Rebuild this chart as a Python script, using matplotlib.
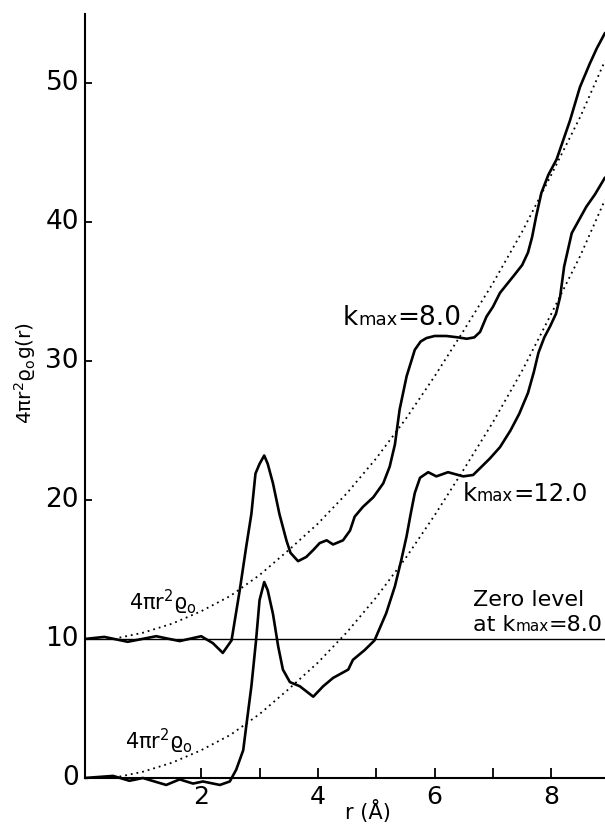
import matplotlib
matplotlib.use("Agg")
import matplotlib.pyplot as plt
from matplotlib.offsetbox import TextArea, HPacker, AnnotationBbox

plt.rcParams['font.family'] = ['DejaVu Sans']
plt.rcParams['mathtext.default'] = 'regular'

# ---- data ----
ZERO_LEVEL_K8 = 10.0

# kmax = 8.0 curve (values relative to its own zero level at 10)
r_k8 = [0.0, 0.34, 0.74, 1.23, 1.63, 2.0, 2.2, 2.37, 2.52, 2.66, 2.77, 2.86, 2.93,
        3.0, 3.08, 3.14, 3.23, 3.34, 3.46, 3.53, 3.66, 3.80, 3.92, 4.03, 4.15, 4.26,
        4.43, 4.55, 4.63, 4.77, 4.95, 5.12, 5.23, 5.32, 5.40, 5.52, 5.66, 5.76, 5.86,
        6.0, 6.2, 6.4, 6.55, 6.68, 6.78, 6.89, 7.0, 7.12, 7.35, 7.50, 7.60, 7.67,
        7.74, 7.83, 7.95, 8.09, 8.32, 8.49, 8.66, 8.78, 8.92]
g_k8 = [0.0, 0.15, -0.2, 0.2, -0.15, 0.2, -0.3, -1.0, -0.1, 3.5, 6.6, 9.0, 11.9,
        12.6, 13.2, 12.6, 11.2, 9.0, 7.1, 6.2, 5.6, 5.9, 6.4, 6.9, 7.1, 6.8,
        7.1, 7.8, 8.8, 9.5, 10.2, 11.2, 12.4, 14.0, 16.5, 18.9, 20.8, 21.4, 21.65,
        21.8, 21.8, 21.7, 21.6, 21.7, 22.1, 23.2, 23.9, 24.9, 26.1, 26.9, 27.8, 28.9,
        30.4, 32.1, 33.4, 34.5, 37.3, 39.7, 41.4, 42.5, 43.6]

# kmax = 12.0 curve (zero level at 0)
r_k12 = [0.0, 0.49, 0.77, 1.0, 1.4, 1.63, 1.86, 2.03, 2.32, 2.49, 2.6, 2.72, 2.78,
         2.86, 2.94, 3.0, 3.08, 3.14, 3.23, 3.32, 3.40, 3.52, 3.69, 3.92, 4.09, 4.26,
         4.52, 4.60, 4.80, 4.97, 5.17, 5.32, 5.43, 5.52, 5.59, 5.66, 5.75, 5.89, 6.03,
         6.23, 6.49, 6.66, 6.83, 6.95, 7.12, 7.30, 7.45, 7.60, 7.70, 7.78, 7.88, 7.98,
         8.08, 8.15, 8.22, 8.35, 8.6, 8.75, 8.92]
g_k12 = [0.0, 0.15, -0.2, 0.0, -0.5, -0.1, -0.4, -0.25, -0.5, -0.25, 0.6, 2.0, 4.0,
         6.6, 9.9, 12.8, 14.1, 13.5, 11.8, 9.45, 7.8, 6.9, 6.6, 5.85, 6.6, 7.2,
         7.8, 8.5, 9.2, 9.9, 11.85, 13.8, 15.7, 17.4, 19.0, 20.5, 21.6, 22.0, 21.7,
         22.0, 21.7, 21.8, 22.5, 23.0, 23.8, 25.0, 26.2, 27.7, 29.2, 30.6, 31.7, 32.5,
         33.4, 34.6, 36.8, 39.2, 41.1, 42.0, 43.2]

# average density curve 4*pi*r^2*rho0 (dotted), relative to each zero level
r_avg = [0.6, 1.0, 1.5, 2.0, 2.5, 3.0, 3.5, 4.0, 4.5, 5.0, 5.5, 6.0, 6.5, 7.0,
         7.5, 8.0, 8.5, 8.92]
g_avg = [0.1, 0.45, 1.1, 2.0, 3.1, 4.6, 6.4, 8.3, 10.5, 13.0, 15.8, 18.9, 22.2,
         25.6, 29.3, 33.4, 37.6, 41.6]

x_major = [2, 4, 6, 8]
x_minor = [3, 5, 7]
y_ticks = [0, 10, 20, 30, 40, 50]

# ---- figure ----
W, H = 605, 827
fig = plt.figure(figsize=(W / 100, H / 100), dpi=100)
px_per_y = 13.9
ylo, yhi = -2.0, 55.0
x0_px, y0_px = 84.5, 778.0
bottom_px = y0_px - ylo * px_per_y
top_px = y0_px - yhi * px_per_y
ax = fig.add_axes([x0_px / W, 1 - bottom_px / H, (W - x0_px) / W, (bottom_px - top_px) / H])
ax.set_xlim(0, 8.92)
ax.set_ylim(ylo, yhi)

lw = 1.9
ax.plot(r_k8, [v + ZERO_LEVEL_K8 for v in g_k8], color='black', lw=lw,
        solid_joinstyle='round', solid_capstyle='round')
ax.plot(r_k12, g_k12, color='black', lw=lw, solid_joinstyle='round', solid_capstyle='round')
ax.plot(r_avg, [v + ZERO_LEVEL_K8 for v in g_avg], color='black', lw=1.3,
        linestyle=(0, (1.0, 2.2)))
ax.plot(r_avg, g_avg, color='black', lw=1.3, linestyle=(0, (1.0, 2.2)))
ax.axhline(ZERO_LEVEL_K8, color='black', lw=1.0)

for s in ['top', 'right']:
    ax.spines[s].set_visible(False)
ax.spines['bottom'].set_position(('data', 0))
ax.spines['left'].set_bounds(0, yhi)
ax.spines['left'].set_linewidth(1.5)
ax.spines['bottom'].set_linewidth(1.5)

ax.set_xticks(x_major)
ax.set_xticks(x_minor, minor=True)
ax.set_xticklabels([str(v) for v in x_major])
ax.set_yticks(y_ticks)
ax.set_yticklabels([str(v) for v in y_ticks])
ax.tick_params(axis='x', which='both', direction='in', length=7.5, width=1.3,
               labelsize=18, pad=5)
ax.tick_params(axis='y', direction='in', length=5, width=1.3, labelsize=19, pad=4)
for lab in ax.get_yticklabels():
    lab.set_verticalalignment('center')

# axis labels
fig.text(368 / W, 1 - 812 / H, 'r (Å)', ha='center', va='center', fontsize=15)
fig.text(25 / W, 1 - 373 / H, r'$4\pi r^2\varrho_o g(r)$', rotation=90,
         ha='center', va='center', fontsize=14.5)


def seq_label(x, y, pieces):
    parts = [TextArea(t, textprops=dict(fontsize=fs)) for t, fs in pieces]
    box = HPacker(children=parts, align='baseline', pad=0, sep=0)
    ab = AnnotationBbox(box, (x, y), xycoords='data', box_alignment=(0, 0.5),
                        frameon=False, pad=0)
    ax.add_artist(ab)


seq_label(4.43, 33.1, [('k', 19), ('max', 13), ('=8.0', 19)])
seq_label(6.48, 20.4, [('k', 17.5), ('max', 12), ('=12.0', 17.5)])

ax.text(6.66, 12.8, 'Zero level', fontsize=16, ha='left', va='center')
seq_label(6.66, 11.0, [('at k', 16), ('max', 11), ('=8.0', 16)])

ax.text(0.77, 12.6, r'$4\pi r^2\varrho_o$', fontsize=15, ha='left', va='center')
ax.text(0.69, 2.65, r'$4\pi r^2\varrho_o$', fontsize=15, ha='left', va='center')

fig.savefig('out.png', dpi=100)
